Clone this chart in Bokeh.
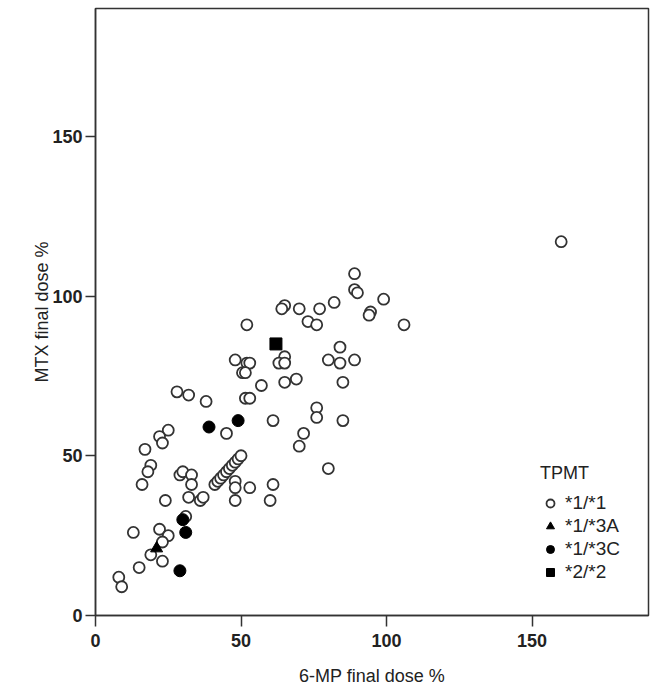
from bokeh.plotting import figure
from bokeh.models import Range1d, FixedTicker, Legend, LegendItem
from bokeh.embed import file_html
from bokeh.resources import INLINE

# TPMT *1/*1 (open circles)
mp_11 = [160, 89, 89, 90, 99, 94.5, 94, 106, 82, 77, 70, 65, 64, 73, 76, 52,
         84, 80, 84, 89, 65, 63, 65, 48, 52, 53, 50.5, 51.5, 57, 65, 69, 85,
         51.5, 53, 61, 76, 76, 85, 71.5, 70, 80, 28, 32, 38, 45, 25, 22, 23,
         17, 19, 18, 16, 29, 30, 33, 33,
         41, 42, 43, 44, 45, 46, 47, 48, 49, 50,
         48, 48, 53, 24, 32, 36, 37, 48, 61, 60, 31, 13, 22, 25, 23, 19, 15,
         23, 8, 9]
mtx_11 = [117, 107, 102, 101, 99, 95, 94, 91, 98, 96, 96, 97, 96, 92, 91, 91,
          84, 80, 79, 80, 81, 79, 79, 80, 79, 79, 76, 76, 72, 73, 74, 73,
          68, 68, 61, 65, 62, 61, 57, 53, 46, 70, 69, 67, 57, 58, 56, 54,
          52, 47, 45, 41, 44, 45, 44, 41,
          41, 42, 43, 44, 45, 46, 47, 48, 49, 50,
          42, 40, 40, 36, 37, 36, 37, 36, 41, 36, 31, 26, 27, 25, 23, 19, 15,
          17, 12, 9]
# TPMT *1/*3A (triangle)
mp_13a = [21]
mtx_13a = [21]
# TPMT *1/*3C (filled circles)
mp_13c = [49, 39, 30, 31, 29]
mtx_13c = [61, 59, 30, 26, 14]
# TPMT *2/*2 (square)
mp_22 = [62]
mtx_22 = [85]

ticks = [0, 50, 100, 150]
FONT = "Liberation Sans"
INK = "#222222"

p = figure(frame_width=553, frame_height=607, output_backend="svg",
           toolbar_location=None, x_range=Range1d(0, 190), y_range=Range1d(0, 190),
           min_border_left=95, min_border_right=14, min_border_top=8,
           min_border_bottom=82)
p.width = 662
p.height = 697

p.xgrid.visible = False
p.ygrid.visible = False
p.outline_line_color = "#333333"
p.outline_line_width = 1.5
p.background_fill_color = "white"
p.border_fill_color = "white"

for ax in (p.xaxis[0], p.yaxis[0]):
    ax.ticker = FixedTicker(ticks=ticks)
    ax.minor_tick_line_color = None
    ax.major_tick_in = 0
    ax.major_tick_line_color = "#333333"
    ax.major_tick_line_width = 1.5
    ax.axis_line_color = "#333333"
    ax.axis_line_width = 1.5
    ax.major_label_text_font = FONT
    ax.major_label_text_font_size = "18px"
    ax.major_label_text_font_style = "bold"
    ax.major_label_text_color = INK
    ax.axis_label_text_font = FONT
    ax.axis_label_text_font_size = "18px"
    ax.axis_label_text_font_style = "normal"
    ax.axis_label_text_color = INK

p.xaxis.axis_label = "6-MP final dose %"
p.yaxis.axis_label = "MTX final dose %"
p.xaxis.major_tick_out = 11
p.yaxis.major_tick_out = 10
p.xaxis.major_label_standoff = 7
p.yaxis.major_label_standoff = 3
p.xaxis.axis_label_standoff = 16
p.yaxis.axis_label_standoff = -3

r1 = p.scatter(mp_11, mtx_11, marker="circle", size=11, fill_color="white",
               line_color="#333333", line_width=1.8)
r2 = p.scatter(mp_13a, mtx_13a, marker="triangle", size=12, fill_color="black",
               line_color="black")
r3 = p.scatter(mp_13c, mtx_13c, marker="circle", size=12, fill_color="black",
               line_color="black")
r4 = p.scatter(mp_22, mtx_22, marker="square", size=12, fill_color="black",
               line_color="black")

legend = Legend(items=[LegendItem(label="*1/*1", renderers=[r1]),
                       LegendItem(label="*1/*3A", renderers=[r2]),
                       LegendItem(label="*1/*3C", renderers=[r3]),
                       LegendItem(label="*2/*2", renderers=[r4])],
                title="TPMT", location=(445, 32))
legend.padding = 0
legend.margin = 0
legend.border_line_alpha = 0
legend.background_fill_alpha = 0
legend.title_text_font = FONT
legend.title_text_font_size = "18px"
legend.title_text_font_style = "normal"
legend.title_text_color = INK
legend.title_standoff = 8
legend.label_text_font = FONT
legend.label_text_font_size = "19px"
legend.label_text_color = INK
legend.glyph_width = 20
legend.glyph_height = 20
legend.label_height = 20
legend.spacing = 1
legend.label_standoff = 5
p.add_layout(legend)

open("out.html", "w").write(file_html(p, INLINE))
